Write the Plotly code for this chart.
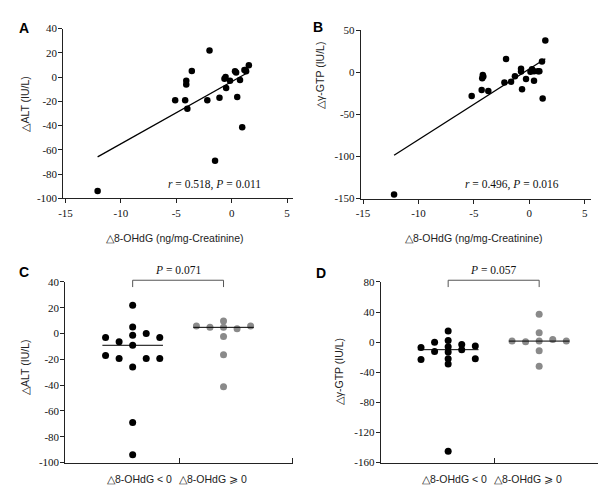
import numpy as np
import plotly.graph_objects as go

# ---------------- data ----------------
# Panel A: delta 8-OHdG vs delta ALT
a_x = [-12.1, -2.0, -3.6, -4.1, -4.1, -5.1, -4.2, -4.0, -2.2, -1.1, -1.5, -0.65, -0.55, -0.5, -0.15,
       0.3, 0.4, 1.15, 1.3, 1.55, 0.75, 0.5, 0.95, 1.25]
a_y = [-94, 22, 5, -3, -6, -19, -19, -26, -19, -17, -69, -1.3, 0, -9, -3,
       4.8, 3.8, 5.8, 4.8, 9.8, -2.3, -16.4, -41.3, 5.8]
# Panel B: delta 8-OHdG vs delta gamma-GTP
b_x = [-12.2, -2.1, -4.2, -4.15, -4.25, -5.2, -4.3, -3.7, -2.25, -1.65, -1.3, -0.75, -0.75, -0.66, -0.3,
       1.44, 1.14, 1.2, 0.42, 0.24, 0.42, 0.78, 0.9, 0.1]
b_y = [-145, 16, -3, -5, -7, -28, -21, -22, -12, -11, -4.5, 4.4, 0.9, -20, -8,
       38, 13, -31, -10, 3.6, 1.4, 1.4, 1.4, 0.6]
a_stats = "<i>r</i> = 0.518, <i>P</i> = 0.011"
b_stats = "<i>r</i> = 0.496, <i>P</i> = 0.016"

# Panel C: delta ALT by group
c_neg = [22, 5, -1.3, 0, -3, -3, -6.3, -9.1, -17, -19.4, -19.4, -19.4, -26, -69, -94]
c_neg_col = [0, 0, 0, 1, -2, 2, -1, 0, -2, -1, 1, 2, 0, 0, 0]
c_pos = [5.8, 4.8, 9.8, 4.8, 3.8, 5.8, -2.3, -16.4, -41.3]
c_pos_col = [-2, -1, 0, 0, 1, 2, 0, 0, 0]
c_p = "<i>P</i> = 0.071"
# Panel D: delta gamma-GTP by group
d_neg = [14.8, 2.3, -0.3, -7, -12.4, -6, -13, -3.3, -10, -5, -23, -22, -29, -22, -145]
d_neg_col = [0, 0, -1, -2, -1, 0, 0, 1, 1, 2, -2, 0, 0, 2, 0]
d_pos = [1.4, 0.6, 37, 12.6, 1.4, 3.6, 1.4, -11.5, -32]
d_pos_col = [-2, -1, 0, 0, 0, 1, 2, 0, 0]
d_p = "<i>P</i> = 0.057"

# tick values / labels (hyphen minus as printed)
x_ticks = [-15, -10, -5, 0, 5]
alt_ticks = [-100, -80, -60, -40, -20, 0, 20, 40]
gtp_ticks_b = [-150, -100, -50, 0, 50]
gtp_ticks_d = [-160, -120, -80, -40, 0, 40, 80]

group_labels = ["△8-OHdG &lt; 0", "△8-OHdG ⩾ 0"]
x_title = "△8-OHdG (ng/mg-Creatinine)"
alt_title = "△ALT (IU/L)"
gtp_title = "△γ-GTP (IU/L)"

# ---------------- styling ----------------
SERIF = "Liberation Serif"
SANS = "Liberation Sans"
W, H = 606, 485
GRAY = "#8a8a8a"
AX = "#222"


def px(v):
    return v / W


def py(v):
    return 1 - v / H


def lab(vals):
    return [str(v) for v in vals]


fig = go.Figure()

# scatter panels
for xs, ys, xa, ya in [(a_x, a_y, "x", "y"), (b_x, b_y, "x2", "y2")]:
    fig.add_trace(go.Scatter(x=xs, y=ys, mode="markers", xaxis=xa, yaxis=ya,
                             marker=dict(color="black", size=6.5), cliponaxis=False, showlegend=False))
    k, b = np.polyfit(xs, ys, 1)
    lx = np.array([min(xs), max(xs)])
    fig.add_trace(go.Scatter(x=lx, y=k * lx + b, mode="lines", xaxis=xa, yaxis=ya,
                             line=dict(color="black", width=1.3), showlegend=False))

# group panels
CEN = [0.592, 1.39]
SP = 0.119
HALF = 0.266
for vals_n, col_n, vals_p, col_p, xa, ya in [(c_neg, c_neg_col, c_pos, c_pos_col, "x3", "y3"),
                                             (d_neg, d_neg_col, d_pos, d_pos_col, "x4", "y4")]:
    for vals, cols, cen, color in [(vals_n, col_n, CEN[0], "black"), (vals_p, col_p, CEN[1], GRAY)]:
        xs = [cen + c * SP for c in cols]
        fig.add_trace(go.Scatter(x=xs, y=vals, mode="markers", xaxis=xa, yaxis=ya,
                                 marker=dict(color=color, size=7), cliponaxis=False, showlegend=False))
        med = float(np.median(vals))
        fig.add_trace(go.Scatter(x=[cen - HALF, cen + HALF], y=[med, med], mode="lines",
                                 xaxis=xa, yaxis=ya, line=dict(color="black", width=1), showlegend=False))
    # bracket
    fig.add_shape(type="path", xref=xa, yref="paper",
                  path=f"M {CEN[0]},{py(280)} L {CEN[0]},{py(273)} L {CEN[1]},{py(273)} L {CEN[1]},{py(280)}",
                  line=dict(color="#555", width=1))

axis_common = dict(showline=True, linecolor=AX, linewidth=1, showgrid=False, zeroline=False,
                   ticks="outside", ticklen=4, tickcolor=AX, tickfont=dict(family=SERIF, size=11, color="#111"))

layout = dict(
    width=W, height=H, margin=dict(l=0, r=0, t=0, b=0),
    plot_bgcolor="white", paper_bgcolor="white", showlegend=False,
    xaxis=dict(domain=[px(50.7), px(282.5)], range=[-15.2, 5.55], tickvals=x_ticks, ticktext=lab(x_ticks),
               anchor="y", **axis_common),
    yaxis=dict(domain=[py(189), py(15)], range=[-100, 40], tickvals=alt_ticks, ticktext=lab(alt_ticks),
               anchor="x", ticklabelstandoff=-1, **axis_common),
    xaxis2=dict(domain=[px(350.7), px(582.7)], range=[-15.2, 5.55], tickvals=x_ticks, ticktext=lab(x_ticks),
                anchor="y2", **axis_common),
    yaxis2=dict(domain=[py(189.3), py(16.7)], range=[-150, 50], tickvals=gtp_ticks_b, ticktext=lab(gtp_ticks_b),
                anchor="x2", ticklabelstandoff=-1, **axis_common),
    yaxis3=dict(domain=[py(460), py(274.7)], range=[-100, 40], tickvals=alt_ticks, ticktext=lab(alt_ticks),
                anchor="x3", ticklabelstandoff=-1, **axis_common),
    yaxis4=dict(domain=[py(460), py(274.7)], range=[-160, 80], tickvals=gtp_ticks_d, ticktext=lab(gtp_ticks_d),
                anchor="x4", ticklabelstandoff=-1, **axis_common),
)
for name, dom in [("xaxis3", [px(52.7), px(282.3)]), ("xaxis4", [px(370.7), px(600.7)])]:
    layout[name] = dict(domain=dom, range=[0, 2], anchor="y" + name[-1], showline=True, linecolor=AX,
                        linewidth=1, showgrid=False, zeroline=False, ticks="",
                        tickvals=[1, 2], ticktext=["", ""],
                        minor=dict(tickvals=[1, 2], ticks="inside", ticklen=5, tickcolor=AX, showgrid=False))
fig.update_layout(**layout)

ann = []
def add(text, x, y, size=11, family=SANS, angle=0, bold=False, color="#222", xanchor="center"):
    ann.append(dict(text=f"<b>{text}</b>" if bold else text, x=px(x), y=py(y), xref="paper", yref="paper",
                    showarrow=False, textangle=angle, font=dict(family=family, size=size, color=color),
                    xanchor=xanchor, yanchor="middle"))

add("A", 11, 14, size=14, bold=True, color="black")
add("B", 308, 13, size=14, bold=True, color="black")
add("C", 11, 265, size=14, bold=True, color="black")
add("D", 311, 266, size=14, bold=True, color="black")
add(x_title, 163, 230, size=10.5)
add(x_title, 465, 230, size=10.5)
add(alt_title, 12, 92, angle=-90, size=10.5)
add(gtp_title, 310, 63, angle=-90, size=10.5)
add(alt_title, 12, 362, angle=-90, size=10.5)
add(gtp_title, 329, 367, angle=-90, size=10.5)
add(a_stats, 203, 175, family=SERIF, size=11.5, color="#111")
add(b_stats, 503, 175, family=SERIF, size=11.5, color="#111")
add(c_p, 166, 262, family=SERIF, size=11.5, color="#111")
add(d_p, 484, 262, family=SERIF, size=11.5, color="#111")

# group labels under panels C and D
for x0 in [52.7, 370.7]:
    for i, cx in enumerate([127.5, 201.5]):
        add(group_labels[i], x0 - 52.7 + cx, 477, size=10.5)
fig.update_layout(annotations=ann)

fig.write_html("out.html")
